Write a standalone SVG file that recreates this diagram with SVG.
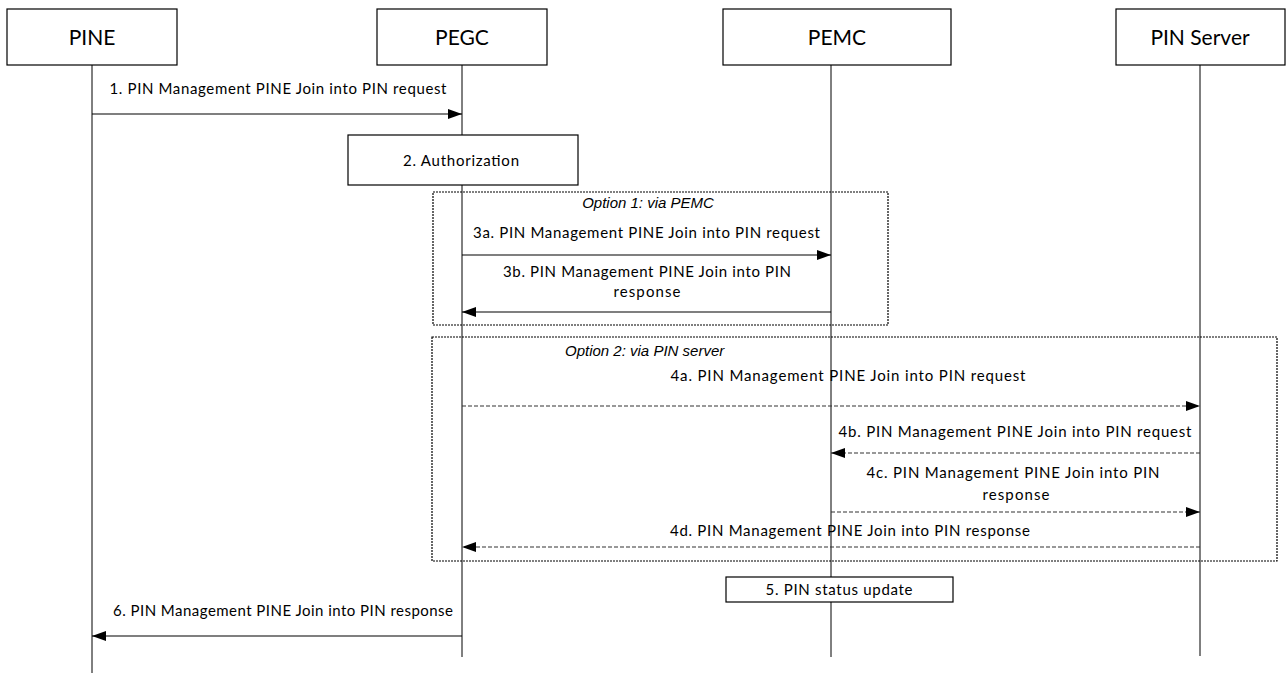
<svg xmlns="http://www.w3.org/2000/svg" width="1286" height="673" viewBox="0 0 1286 673">
<style>
.bg{fill:#fff}
.box{fill:#fff;stroke:#000;stroke-width:1.2}
.life{stroke:#000;stroke-width:1;fill:none}
.title{font-family:Lato,"Liberation Sans",sans-serif;font-size:21px;fill:#000;text-anchor:middle}
.lbl{font-family:Lato,"Liberation Sans",sans-serif;font-size:15px;fill:#000;text-anchor:middle}
.opt{font-family:"Liberation Sans",Arial,sans-serif;font-size:15px;font-style:italic;fill:#000}
.frame{fill:none;stroke:#000;stroke-width:1.2;stroke-dasharray:2 1}
.msg{stroke:#000;stroke-width:1.2;fill:none;marker-end:url(#ah)}
.dash{stroke:#333;stroke-width:1.2;fill:none;stroke-dasharray:4 2;marker-end:url(#ah)}
</style>
<defs>
<marker id="ah" markerUnits="userSpaceOnUse" markerWidth="14" markerHeight="10" refX="14" refY="5" orient="auto">
<path d="M0,0 L14,5 L0,10 z" fill="#000"/>
</marker>
</defs>
<rect class="bg" x="0" y="0" width="1286" height="673"/>
<g id="lifelines">
<line class="life" x1="92" y1="65" x2="92" y2="673"/>
<line class="life" x1="462" y1="65" x2="462" y2="657"/>
<line class="life" x1="831" y1="65" x2="831" y2="657"/>
<line class="life" x1="1200" y1="65" x2="1200" y2="656"/>
</g>
<g id="PINE"><rect class="box" x="7" y="9" width="170" height="56"/><text class="title" x="92" y="45">PINE</text></g>
<g id="PEGC"><rect class="box" x="377" y="9" width="170" height="56"/><text class="title" x="462" y="45">PEGC</text></g>
<g id="PEMC"><rect class="box" x="723" y="9" width="228" height="56"/><text class="title" x="837" y="45">PEMC</text></g>
<g id="PINServer"><rect class="box" x="1116" y="9" width="169" height="56"/><text class="title" x="1200" y="45">PIN Server</text></g>
<g id="authorization"><rect class="box" x="348" y="135" width="230" height="50"/><text class="lbl" x="461" y="166" textLength="116">2. Authorization</text></g>
<g id="option1"><rect class="frame" x="433" y="192" width="455" height="133"/><text class="opt" x="648" y="208" text-anchor="middle">Option 1: via PEMC</text></g>
<g id="option2"><rect class="frame" x="432" y="337" width="845" height="224"/><text class="opt" x="565" y="356">Option 2: via PIN server</text></g>
<g id="statusUpdate"><rect class="box" x="726" y="577" width="227" height="25"/><text class="lbl" x="839" y="595" textLength="147">5. PIN status update</text></g>
<g id="connectors">
<line class="msg" x1="92" y1="114" x2="462" y2="114"/>
<line class="msg" x1="462" y1="255" x2="831" y2="255"/>
<line class="msg" x1="831" y1="312" x2="462" y2="312"/>
<line class="dash" x1="462" y1="406" x2="1200" y2="406"/>
<line class="dash" x1="1200" y1="453" x2="831" y2="453"/>
<line class="dash" x1="831" y1="512" x2="1200" y2="512"/>
<line class="dash" x1="1200" y1="547" x2="462" y2="547"/>
<line class="msg" x1="462" y1="636" x2="92" y2="636"/>
</g>
<g id="labels">
<text class="lbl" x="278" y="94" textLength="337">1. PIN Management PINE Join into PIN request</text>
<text class="lbl" x="646.5" y="238" textLength="347">3a. PIN Management PINE Join into PIN request</text>
<text class="lbl" x="647" y="277" textLength="288">3b. PIN Management PINE Join into PIN</text>
<text class="lbl" x="647" y="297" textLength="67">response</text>
<text class="lbl" x="848" y="381" textLength="355">4a. PIN Management PINE Join into PIN request</text>
<text class="lbl" x="1015" y="437" textLength="353">4b. PIN Management PINE Join into PIN request</text>
<text class="lbl" x="1013" y="478" textLength="293">4c. PIN Management PINE Join into PIN</text>
<text class="lbl" x="1016" y="500" textLength="67">response</text>
<text class="lbl" x="850" y="536" textLength="360">4d. PIN Management PINE Join into PIN response</text>
<text class="lbl" x="283" y="616" textLength="340">6. PIN Management PINE Join into PIN response</text>
</g>
</svg>
